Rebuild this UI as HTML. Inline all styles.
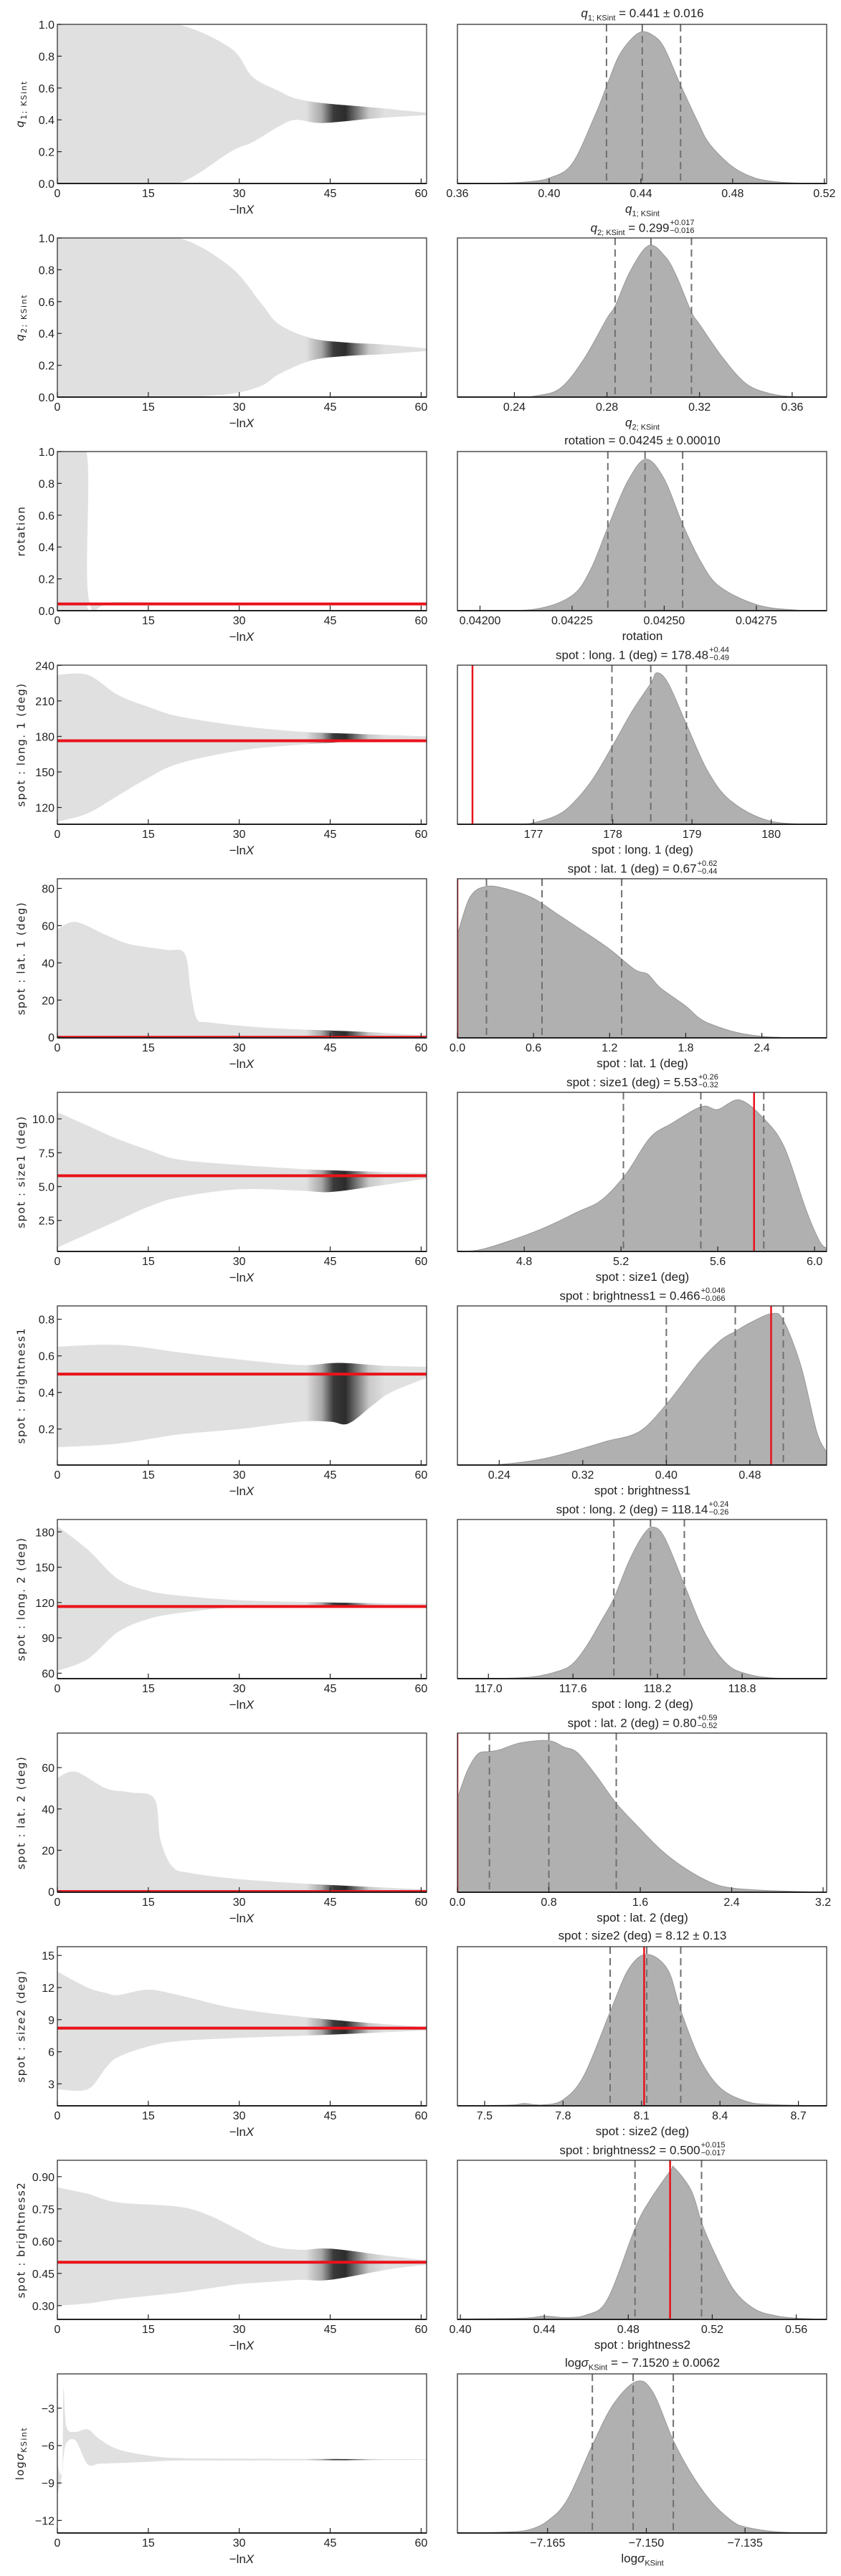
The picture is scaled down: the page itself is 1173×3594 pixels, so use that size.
<!DOCTYPE html>
<html><head><meta charset="utf-8">
<style>
html,body{margin:0;padding:0;background:#fff;}
#wrap{position:relative;width:1173px;height:3594px;overflow:hidden;font-family:"Liberation Sans","DejaVu Sans",sans-serif;color:#222;}
svg{position:absolute;left:0;top:0;}
.t{position:absolute;white-space:nowrap;font-size:17px;transform:translateX(-50%);line-height:1;}
.ss{display:inline-block;vertical-align:middle;font-size:11px;line-height:11px;text-align:left;margin-left:1px;position:relative;top:-2px;}
.ss span{display:block;}
sub{font-size:11px;}
.yl{position:absolute;white-space:nowrap;font-family:"DejaVu Sans","Liberation Sans",sans-serif;font-size:15px;letter-spacing:1.5px;transform:translate(-50%,-50%) rotate(-90deg);line-height:1;}
</style></head><body>
<div id="wrap">
<svg id="svg" width="1173" height="3594" viewBox="0 0 1173 3594"></svg>
</div>
<script>
// ---------- DATA ----------
const leftYDomain = [[0,1],[0,1],[0,1],[105.8,240.2],[-0.3,85.2],[0.21,11.96],[0.003,0.873],[55.4,190.5],[-0.3,76.7],[0.95,15.82],[0.236,0.976],[-13.01,-0.25]];
const leftYTicks = [[0,0.2,0.4,0.6,0.8,1],[0,0.2,0.4,0.6,0.8,1],[0,0.2,0.4,0.6,0.8,1],[120,150,180,210,240],[0,20,40,60,80],[2.5,5,7.5,10],[0.2,0.4,0.6,0.8],[60,90,120,150,180],[0,20,40,60],[3,6,9,12,15],[0.30,0.45,0.60,0.75,0.90],[-12,-9,-6,-3]];
const leftYTickLabels = [["0.0","0.2","0.4","0.6","0.8","1.0"],["0.0","0.2","0.4","0.6","0.8","1.0"],["0.0","0.2","0.4","0.6","0.8","1.0"],["120","150","180","210","240"],["0","20","40","60","80"],["2.5","5.0","7.5","10.0"],["0.2","0.4","0.6","0.8"],["60","90","120","150","180"],["0","20","40","60"],["3","6","9","12","15"],["0.30","0.45","0.60","0.75","0.90"],["−12","−9","−6","−3"]];
const lnXTicks = [0,15,30,45,60];
const envX = [
 [0,10,19.8,28.6,32.2,36.6,39.3,43.7,52.6,60.9],
 [0,10,20,28.5,33.6,36.6,41.9,47.3,54,60.9],
 [0,4.8,5.2,10,30,60.9],
 [0,5,10,15,20,30,40,50,60.9],
 [0,3,8,12,18,21,22,23,25,35,50,60.9],
 [0,5,10,15,20,30,40,45,52,60.9],
 [0,10,20,30,40,45,48,52,55,60.9],
 [0,5,10,15,20,30,45,60.9],
 [0,3,8,12,16,17,19,22,30,40,50,60.9],
 [0,5,8,10,15,20,30,45,60.9],
 [0,5,10,20,25,30,35,40,45,55,60.9],
 [0,0.8,1,1.5,3,5,7,10,15,20,30,60.9]];
const envUpper = [
 [1,1,1,0.85,0.67,0.58,0.535,0.506,0.476,0.444],
 [1,1,1,0.82,0.59,0.456,0.37,0.344,0.33,0.306],
 [1,1,0.07,0.055,0.05,0.045],
 [232,232,215,205,197,189,184,182,180],
 [58,62,55,50,47,45,25,10,8,5,3,1],
 [10.5,9.5,8.5,7.7,7.0,6.6,6.3,6.2,6.1,6.0],
 [0.65,0.66,0.62,0.58,0.55,0.56,0.56,0.55,0.545,0.54],
 [185,165,140,130,126,122,120,119],
 [55,58,50,48,45,25,12,9,6,4,2.5,1],
 [13.5,12,11.5,11.3,11.8,11.3,10,9.0,8.3],
 [0.85,0.82,0.78,0.76,0.72,0.65,0.58,0.56,0.565,0.53,0.51],
 [-7.5,-8,-1.5,-4.5,-4.9,-4.7,-5.5,-6.3,-6.8,-7.0,-7.05,-7.1]];
const envLower = [
 [0,0,0,0.2,0.26,0.36,0.40,0.38,0.41,0.43],
 [0,0,0,0.02,0.07,0.145,0.23,0.257,0.27,0.29],
 [0,0,0.035,0.038,0.04,0.042],
 [108,115,130,145,157,168,173,176,178],
 [0,0,0,0,0,0,0,0,0,0,0,0],
 [0.5,1.5,2.5,3.5,4.2,4.8,4.7,4.6,5.0,5.6],
 [0.1,0.12,0.17,0.2,0.24,0.24,0.23,0.33,0.4,0.48],
 [62,72,95,106,111,116,117,118],
 [0,0,0,0,0,0,0,0,0,0,0,0],
 [2.5,2.5,4.5,5.5,6.5,7.0,7.3,7.6,8.0],
 [0.3,0.31,0.33,0.36,0.38,0.40,0.41,0.42,0.42,0.47,0.49],
 [-10,-8.2,-7.0,-5.8,-5.6,-7.5,-7.45,-7.4,-7.3,-7.2,-7.2,-7.15]];
const truthValues = [null,null,0.0424,176.3,0,5.80,0.50,116.6,0,8.21,0.502,null];
const rightXDomain = [[0.36,0.521],[0.2154,0.3749],[0.0419387,0.042941],[176.04,180.70],[0,2.911],[4.524,6.05],[0.2,0.5535],[116.78,119.40],[0,3.231],[7.396,8.808],[0.3986,0.5745],[-7.1787,-7.1226]];
const rightTicks = [[0.36,0.40,0.44,0.48,0.52],[0.24,0.28,0.32,0.36],[0.042,0.04225,0.0425,0.04275],[177,178,179,180],[0,0.6,1.2,1.8,2.4],[4.8,5.2,5.6,6.0],[0.24,0.32,0.40,0.48],[117.0,117.6,118.2,118.8],[0,0.8,1.6,2.4,3.2],[7.5,7.8,8.1,8.4,8.7],[0.40,0.44,0.48,0.52,0.56],[-7.165,-7.150,-7.135]];
const rightTickLabels = [["0.36","0.40","0.44","0.48","0.52"],["0.24","0.28","0.32","0.36"],["0.04200","0.04225","0.04250","0.04275"],["177","178","179","180"],["0.0","0.6","1.2","1.8","2.4"],["4.8","5.2","5.6","6.0"],["0.24","0.32","0.40","0.48"],["117.0","117.6","118.2","118.8"],["0.0","0.8","1.6","2.4","3.2"],["7.5","7.8","8.1","8.4","8.7"],["0.40","0.44","0.48","0.52","0.56"],["−7.165","−7.150","−7.135"]];
const quantiles = [[0.425,0.4406,0.4573],[0.2835,0.299,0.3165],[0.042347,0.042448,0.04255],[177.99,178.48,178.93],[0.229,0.667,1.295],[5.21,5.53,5.79],[0.40,0.466,0.512],[117.89,118.15,118.39],[0.28,0.80,1.39],[7.98,8.12,8.25],[0.4832,0.50,0.5149],[-7.1582,-7.152,-7.1459]];
const rightTruth = [null,null,null,176.23,0,5.75,0.5003,null,0,8.11,0.4999,null];
const densX = [
 [0.36,0.38,0.39,0.40,0.41,0.42,0.425,0.43,0.435,0.44,0.445,0.45,0.457,0.465,0.47,0.48,0.49,0.50,0.51,0.521],
 [0.2154,0.24,0.25,0.26,0.27,0.28,0.2835,0.29,0.298,0.305,0.31,0.3165,0.32,0.33,0.34,0.35,0.36,0.3749],
 [0.0419387,0.042,0.04215,0.04225,0.0423,0.042347,0.0424,0.04245,0.0425,0.04255,0.0426,0.04265,0.04275,0.04285,0.042941],
 [176.04,176.8,177,177.3,177.5,177.75,178,178.25,178.48,178.56,178.7,178.93,179.2,179.5,180,180.7],
 [0,0.1,0.23,0.4,0.6,0.8,1.0,1.2,1.4,1.5,1.6,1.8,1.9,2.0,2.2,2.4,2.6,2.911],
 [4.524,4.631,4.853,5.02,5.12,5.22,5.32,5.41,5.533,5.6,5.69,5.79,5.875,5.964,6.02,6.05],
 [0.2,0.24,0.2815,0.32,0.3433,0.374,0.40,0.4308,0.4514,0.466,0.4823,0.5015,0.512,0.5288,0.544,0.5535],
 [116.78,117.0,117.3,117.5,117.6,117.7,117.8,117.89,118.0,118.1,118.17,118.25,118.39,118.5,118.6,118.7,118.8,119.0,119.4],
 [0,0.086,0.18,0.28,0.368,0.556,0.80,0.933,1.049,1.215,1.39,1.591,1.78,1.968,2.2,2.39,2.67,2.955,3.231],
 [7.396,7.6,7.65,7.72,7.8,7.88,7.98,8.05,8.12,8.2,8.25,8.32,8.4,8.5,8.6,8.808],
 [0.3986,0.40,0.43,0.44,0.45,0.46,0.47,0.4832,0.49,0.50,0.502,0.51,0.5149,0.52,0.53,0.54,0.55,0.56,0.5745],
 [-7.1787,-7.172,-7.168,-7.165,-7.162,-7.1582,-7.155,-7.1515,-7.149,-7.1459,-7.143,-7.14,-7.137,-7.135,-7.13,-7.1226]];
const densY = [
 [0,0.003,0.01,0.036,0.13,0.45,0.64,0.83,0.94,1.0,0.98,0.90,0.66,0.40,0.26,0.11,0.035,0.01,0.002,0],
 [0,0,0.01,0.06,0.25,0.52,0.6,0.83,1.0,0.93,0.80,0.56,0.48,0.26,0.09,0.025,0.004,0],
 [0,0.002,0.01,0.1,0.27,0.55,0.85,1.0,0.87,0.57,0.32,0.16,0.04,0.005,0],
 [0,0.002,0.01,0.06,0.14,0.3,0.52,0.75,0.93,1.0,0.93,0.66,0.35,0.15,0.02,0],
 [0.68,0.93,1.0,0.98,0.92,0.81,0.70,0.585,0.45,0.42,0.33,0.21,0.135,0.09,0.036,0.01,0.002,0],
 [0.003,0.016,0.136,0.26,0.34,0.51,0.75,0.845,0.956,0.937,1.0,0.877,0.688,0.278,0.07,0.02],
 [0,0.004,0.04,0.11,0.158,0.22,0.40,0.674,0.82,0.882,0.946,1.0,0.955,0.656,0.22,0.085],
 [0,0,0.01,0.05,0.1,0.22,0.38,0.53,0.78,0.95,1.0,0.93,0.62,0.37,0.2,0.09,0.04,0.005,0],
 [0.62,0.80,0.913,0.928,0.94,0.986,1.0,0.958,0.922,0.768,0.587,0.424,0.28,0.17,0.07,0.029,0.013,0.005,0],
 [0,0.005,0.015,0.006,0.04,0.2,0.62,0.9,1.0,0.9,0.63,0.32,0.12,0.03,0.008,0],
 [0,0.003,0.008,0.022,0.012,0.03,0.13,0.6,0.78,0.98,1.0,0.85,0.64,0.47,0.2,0.07,0.025,0.008,0],
 [0,0.005,0.02,0.08,0.22,0.58,0.85,1.0,0.93,0.61,0.38,0.2,0.08,0.04,0.007,0]];

// ---------- LABELS ----------
function ss(a,b){return '<span class="ss"><span>'+a+'</span><span>'+b+'</span></span>';}
const titles = [
 '<i>q</i><sub>1; KSint</sub> = 0.441 ± 0.016',
 '<i>q</i><sub>2; KSint</sub> = 0.299'+ss('+0.017','−0.016'),
 'rotation = 0.04245 ± 0.00010',
 'spot : long. 1 (deg) = 178.48'+ss('+0.44','−0.49'),
 'spot : lat. 1 (deg) = 0.67'+ss('+0.62','−0.44'),
 'spot : size1 (deg) = 5.53'+ss('+0.26','−0.32'),
 'spot : brightness1 = 0.466'+ss('+0.046','−0.066'),
 'spot : long. 2 (deg) = 118.14'+ss('+0.24','−0.26'),
 'spot : lat. 2 (deg) = 0.80'+ss('+0.59','−0.52'),
 'spot : size2 (deg) = 8.12 ± 0.13',
 'spot : brightness2 = 0.500'+ss('+0.015','−0.017'),
 'log<i>σ</i><sub>KSint</sub> = − 7.1520 ± 0.0062'];
const xlabels = ['<i>q</i><sub>1; KSint</sub>','<i>q</i><sub>2; KSint</sub>','rotation','spot : long. 1 (deg)','spot : lat. 1 (deg)','spot : size1 (deg)','spot : brightness1','spot : long. 2 (deg)','spot : lat. 2 (deg)','spot : size2 (deg)','spot : brightness2','log<i>σ</i><sub>KSint</sub>'];
const ylabels = ['<i>q</i><sub>1; KSint</sub>','<i>q</i><sub>2; KSint</sub>','rotation','spot : long. 1 (deg)','spot : lat. 1 (deg)','spot : size1 (deg)','spot : brightness1','spot : long. 2 (deg)','spot : lat. 2 (deg)','spot : size2 (deg)','spot : brightness2','log<i>σ</i><sub>KSint</sub>'];

// ---------- RENDER ----------
const NS='http://www.w3.org/2000/svg';
const svg=document.getElementById('svg');
const wrap=document.getElementById('wrap');
const LX0=80, LX1=595, RX0=638, RX1=1153, PH=222, LNXMAX=60.9;
function mk(tag,attrs,parent){const e=document.createElementNS(NS,tag);for(const k in attrs)e.setAttribute(k,attrs[k]);(parent||svg).appendChild(e);return e;}
function smooth(p){let d='M'+p[0][0].toFixed(1)+','+p[0][1].toFixed(1);for(let i=0;i<p.length-1;i++){const p0=p[i-1]||p[i],p1=p[i],p2=p[i+1],p3=p[i+2]||p2;const c1x=p1[0]+(p2[0]-p0[0])/6,c1y=p1[1]+(p2[1]-p0[1])/6,c2x=p2[0]-(p3[0]-p1[0])/6,c2y=p2[1]-(p3[1]-p1[1])/6;d+='C'+c1x.toFixed(1)+','+c1y.toFixed(1)+' '+c2x.toFixed(1)+','+c2y.toFixed(1)+' '+p2[0].toFixed(1)+','+p2[1].toFixed(1);}return d;}
function html(cls,content,x,y,name){const d=document.createElement('div');d.className=cls;d.innerHTML=content;d.style.left=x+'px';d.style.top=y+'px';


wrap.appendChild(d);return d;}
const defs=mk('defs',{});

for(let i=0;i<12;i++){
 const top=34+298*i, bot=top+PH;
 const [ymin,ymax]=leftYDomain[i];
 const px=v=>LX0+v/LNXMAX*(LX1-LX0);
 const py=v=>top+(ymax-v)/(ymax-ymin)*PH;
 const [xmin,xmax]=rightXDomain[i];
 const qx=v=>RX0+(v-xmin)/(xmax-xmin)*(RX1-RX0);
 const qy=d=>bot-d/1.05*PH;

 // clip paths
 const cl=mk('clipPath',{id:'cl'+i},defs);mk('rect',{x:LX0,y:top,width:LX1-LX0,height:PH},cl);
 const cr=mk('clipPath',{id:'cr'+i},defs);mk('rect',{x:RX0,y:top,width:RX1-RX0,height:PH},cr);
 const gr=mk('linearGradient',{id:'g'+i,gradientUnits:'userSpaceOnUse',x1:px(41),x2:px(54),y1:0,y2:0},defs);
 [[0,'#e0e0e0'],[0.2,'#a8a8a8'],[0.35,'#3a3a3a'],[0.5,'#2c2c2c'],[0.62,'#6a6a6a'],[0.8,'#c8c8c8'],[1,'#e0e0e0']].forEach(s=>mk('stop',{offset:s[0],'stop-color':s[1]},gr));

 // LEFT PANEL
 const gl=mk('g',{'clip-path':'url(#cl'+i+')'});
 
 
 const up=envX[i].map((x,k)=>[px(x),py(envUpper[i][k])]);
 const lo=envX[i].map((x,k)=>[px(x),py(envLower[i][k])]).reverse();
 let d=smooth(up)+'L'+lo[0][0].toFixed(1)+','+lo[0][1].toFixed(1)+smooth(lo).slice(smooth(lo).indexOf('C'))+'Z';
 const cloud=mk('path',{d:d,fill:'url(#g'+i+')'},gl);
 
 
 if(truthValues[i]!==null){
  const rl=mk('line',{x1:LX0,x2:LX1,y1:py(truthValues[i]),y2:py(truthValues[i]),stroke:'#e8131b','stroke-width':4},gl);
  
  
 }
 mk('rect',{x:LX0,y:top,width:LX1-LX0,height:PH,fill:'none',stroke:'#333','stroke-width':1.3});
 mk('line',{x1:LX0,x2:LX1,y1:bot,y2:bot,stroke:'#222','stroke-width':2});
 lnXTicks.forEach(t=>{
  mk('line',{x1:px(t),x2:px(t),y1:bot,y2:bot-7,stroke:'#222','stroke-width':1.2});
  const tx=mk('text',{x:px(t),y:bot+19,'text-anchor':'middle','font-size':16,fill:'#222'});tx.textContent=t;
  
  
 });
 leftYTicks[i].forEach((t,k)=>{
  mk('line',{x1:LX0,x2:LX0+6,y1:py(t),y2:py(t),stroke:'#222','stroke-width':1.2});
  const tx=mk('text',{x:LX0-4,y:py(t)+6,'text-anchor':'end','font-size':16,fill:'#222'});tx.textContent=leftYTickLabels[i][k];
  
  
 });
 html('t','−ln<i>X</i>',337,bot+28,'x-axis-title');
 html('yl',ylabels[i],30,top+PH/2,'y-axis-title');

 // RIGHT PANEL
 const grp=mk('g',{'clip-path':'url(#cr'+i+')'});
 
 
 const pts=densX[i].map((x,k)=>[qx(x),qy(densY[i][k])]);
 const area=mk('path',{d:smooth(pts)+'L'+qx(densX[i][densX[i].length-1])+','+bot+'L'+qx(densX[i][0])+','+bot+'Z',fill:'#b0b0b0',stroke:'#999','stroke-width':1},grp);
 
 
 quantiles[i].forEach(q=>{
  const l=mk('line',{x1:qx(q),x2:qx(q),y1:top,y2:bot,stroke:'#707070','stroke-width':2,'stroke-dasharray':'10,6'},grp);
  
  
 });
 if(rightTruth[i]!==null){
  const l=mk('line',{x1:qx(rightTruth[i]),x2:qx(rightTruth[i]),y1:top,y2:bot,stroke:'#e8131b','stroke-width':2.5},grp);
  
  
 }
 mk('rect',{x:RX0,y:top,width:RX1-RX0,height:PH,fill:'none',stroke:'#333','stroke-width':1.3});
 mk('line',{x1:RX0,x2:RX1,y1:bot,y2:bot,stroke:'#222','stroke-width':2});
 rightTicks[i].forEach((t,k)=>{
  mk('line',{x1:qx(t),x2:qx(t),y1:bot,y2:bot-7,stroke:'#222','stroke-width':1.2});
  const tx=mk('text',{x:qx(t),y:bot+19,'text-anchor':'middle','font-size':16,fill:'#222'});tx.textContent=rightTickLabels[i][k];
  
  
 });
 html('t',titles[i],896,top-24,'panel-title');
 html('t',xlabels[i],896,bot+27,'x-axis-title');
}
</script>
</body></html>
